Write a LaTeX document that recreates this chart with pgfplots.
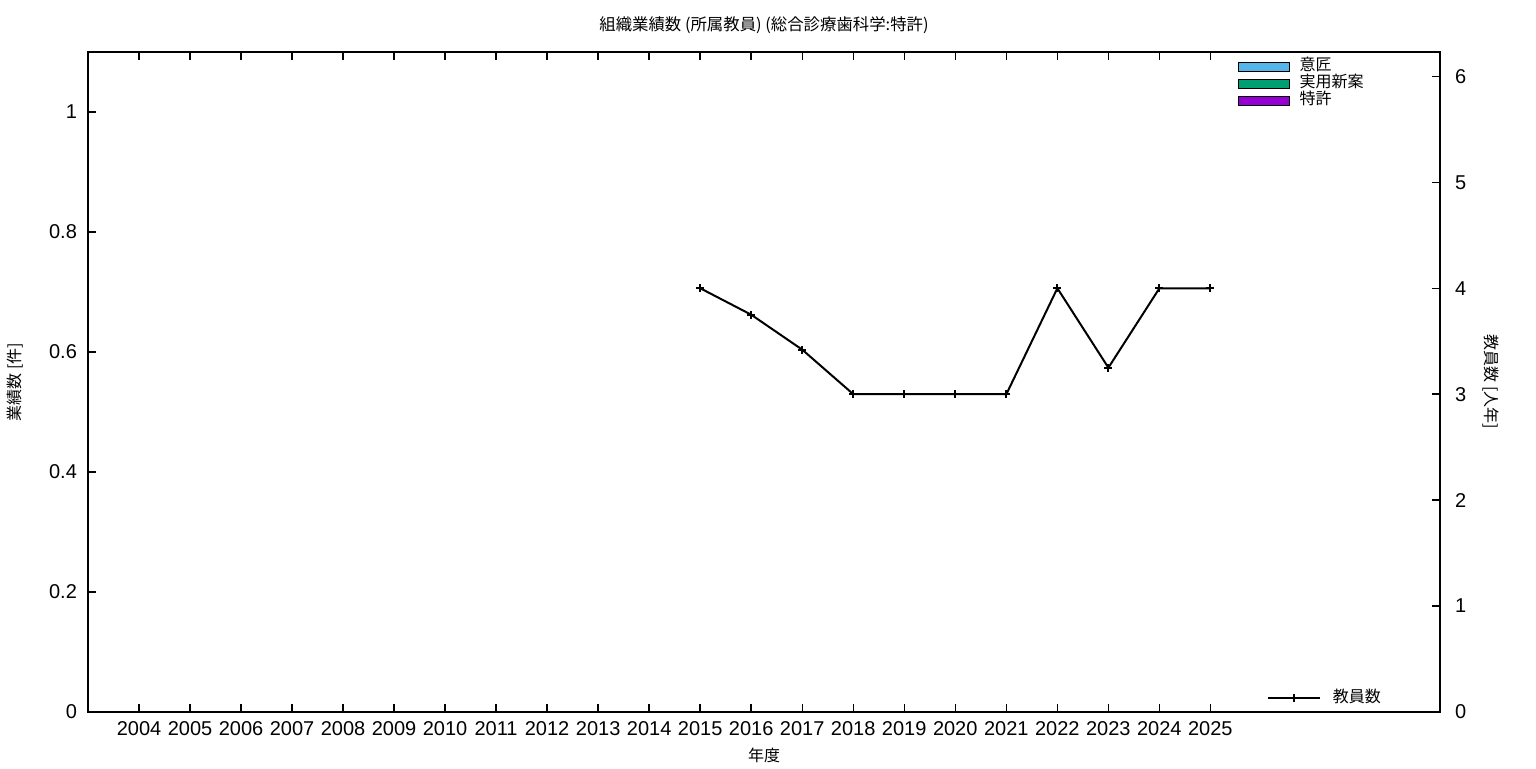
\documentclass[border=0pt]{standalone}
\usepackage{pgfplots}
\pgfplotsset{compat=1.18}
\usepackage{fontspec}
\setmainfont{Liberation Sans}
\newfontfamily\cjk{Noto Sans CJK JP}
\definecolor{cIsho}{HTML}{56B4E9}
\definecolor{cJitsu}{HTML}{009E73}
\definecolor{cTokkyo}{HTML}{9400D3}
\pgfplotstableread{
year staff
2015 4
2016 3.75
2017 3.42
2018 3
2019 3
2020 3
2021 3
2022 4
2023 3.25
2024 4
2025 4
}\staff
\begin{document}
\begin{tikzpicture}
\useasboundingbox (-44pt,-28pt) rectangle (724pt,356pt);
\begin{axis}[
  at={(0,0)}, anchor=south west,
  scale only axis, width=676pt, height=330pt,
  xmin=2003, xmax=2029.5, ymin=0, ymax=1.1,
  xtick={2004,...,2025},
  ytick={0,0.2,0.4,0.6,0.8,1},
  xtick pos=both, ytick pos=left,
  tick align=inside,
  major tick length=4pt,
  axis line style={line width=0.7pt},
  tick style={line width=0.7pt, black},
  /pgf/number format/assume math mode=true,
  /pgf/number format/1000 sep={},
  yticklabel style={/pgf/number format/fixed, /pgf/number format/precision=1, font=\fontsize{10}{12}\selectfont, xshift=-2pt},
  xticklabel style={font=\fontsize{10}{12}\selectfont, yshift=-1pt},
  legend cell align=left,
  legend style={draw=none, fill=none, at={(rel axis cs:0.85,0.991)}, anchor=north west,
    inner sep=0pt, row sep=0pt, column sep=5pt,
    nodes={inner sep=0pt, text height=6.3pt, text depth=2.2pt, font=\cjk\fontsize{8}{9}\selectfont}},
  clip=false,
]
\addlegendimage{legend image code/.code={\draw[fill=cIsho, draw=black, line width=0.5pt] (0pt,-2.2pt) rectangle (25.5pt,2.2pt);}}
\addlegendentry{意匠}
\addlegendimage{legend image code/.code={\draw[fill=cJitsu, draw=black, line width=0.5pt] (0pt,-2.2pt) rectangle (25.5pt,2.2pt);}}
\addlegendentry{実用新案}
\addlegendimage{legend image code/.code={\draw[fill=cTokkyo, draw=black, line width=0.5pt] (0pt,-2.2pt) rectangle (25.5pt,2.2pt);}}
\addlegendentry{特許}
\node[yshift=13.5pt] at (rel axis cs:0.5,1) {\cjk\fontsize{8.2}{9}\selectfont 組織業績数 (所属教員) (総合診療歯科学:特許)};
\node[xshift=-36.5pt, rotate=90] at (rel axis cs:0,0.5) {\cjk\fontsize{8}{9}\selectfont 業績数 [件]};
\node[yshift=-21.5pt] at (rel axis cs:0.5,0) {\cjk\fontsize{8}{9}\selectfont 年度};
\node[xshift=25.5pt, rotate=-90] at (rel axis cs:1,0.5) {\cjk\fontsize{8}{9}\selectfont 教員数 [人年]};
\end{axis}
\begin{axis}[
  at={(0,0)}, anchor=south west,
  scale only axis, width=676pt, height=330pt,
  xmin=2003, xmax=2029.5, ymin=0, ymax=6.23,
  axis x line=none,
  axis y line*=right,
  ytick={0,1,2,3,4,5,6},
  tick align=inside,
  major tick length=4pt,
  axis line style={line width=0.7pt, -},
  tick style={line width=0.7pt, black},
  /pgf/number format/assume math mode=true,
  yticklabel style={font=\fontsize{10}{12}\selectfont, xshift=4pt},
  legend cell align=left,
  legend style={draw=none, fill=none, at={(rel axis cs:0.8716,0.0212)}, anchor=west,
    inner sep=0pt, column sep=6pt,
    nodes={inner sep=0pt, text height=6.3pt, text depth=2.2pt, font=\cjk\fontsize{8}{9}\selectfont}},
  legend image code/.code={\draw[#1, mark=none] (0pt,0pt) -- (26pt,0pt); \draw[#1, only marks] plot coordinates {(13pt,0pt)};},
]
\addplot[black, line width=1pt, mark=+, mark size=2pt, mark options={line width=1pt}] table[x=year, y=staff] {\staff};
\addlegendentry{教員数}
\end{axis}
\end{tikzpicture}
\end{document}
